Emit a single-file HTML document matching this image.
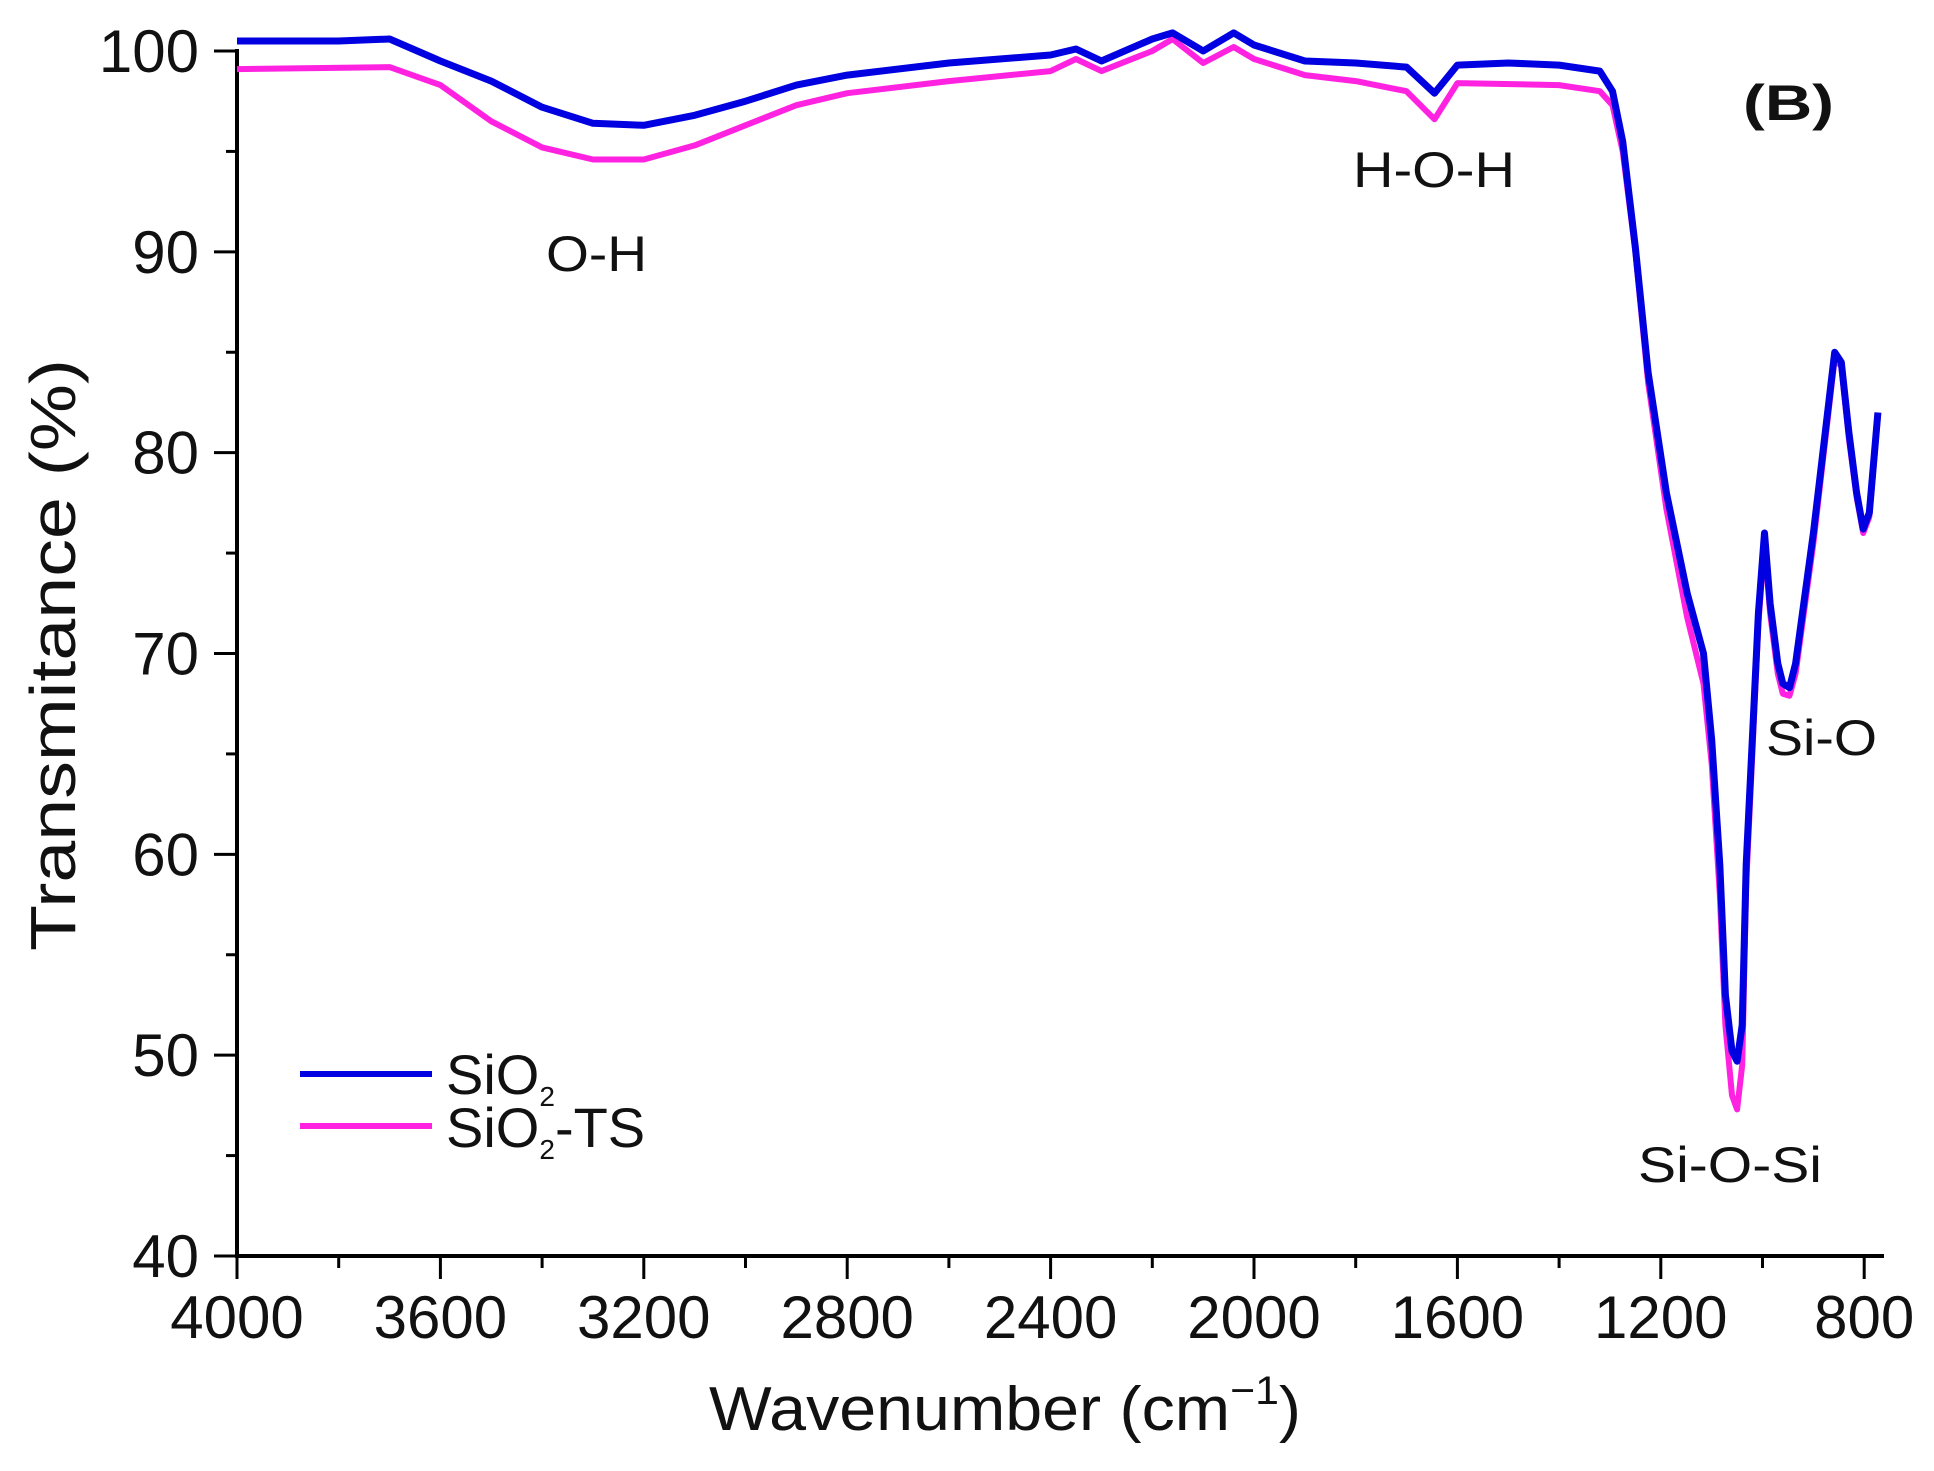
<!DOCTYPE html>
<html><head><meta charset="utf-8"><style>
html,body{margin:0;padding:0;background:#fff}
svg{display:block}
text{font-family:"Liberation Sans",sans-serif;fill:#111}
</style></head><body>
<svg id="chart" width="1934" height="1471" viewBox="0 0 1934 1471">
<g id="axes"></g>
<g id="series"></g>
<text x="0" y="0" font-size="64" textLength="592" lengthAdjust="spacingAndGlyphs" transform="translate(75,951) rotate(-90)">Transmitance (%)</text>
<text x="709" y="1430" font-size="62" textLength="592" lengthAdjust="spacingAndGlyphs">Wavenumber (cm<tspan font-size="40" dy="-26">−1</tspan><tspan dy="26">)</tspan></text>
<text x="546" y="271" font-size="50" textLength="101" lengthAdjust="spacingAndGlyphs">O-H</text>
<text x="1353" y="187" font-size="50" textLength="162" lengthAdjust="spacingAndGlyphs">H-O-H</text>
<text x="1743" y="120" font-size="50" font-weight="bold" textLength="91" lengthAdjust="spacingAndGlyphs">(B)</text>
<text x="1766" y="755" font-size="50" textLength="111" lengthAdjust="spacingAndGlyphs">Si-O</text>
<text x="1638" y="1182" font-size="50" textLength="184" lengthAdjust="spacingAndGlyphs">Si-O-Si</text>
<g>
<line x1="300" y1="1074" x2="432" y2="1074" stroke="#0000e0" stroke-width="6"/>
<text x="446" y="1094" font-size="56">SiO<tspan font-size="28" dy="12">2</tspan></text>
<line x1="300" y1="1126" x2="432" y2="1126" stroke="#ff22e0" stroke-width="6"/>
<text x="446" y="1147" font-size="56">SiO<tspan font-size="28" dy="12">2</tspan><tspan dy="-12">-TS</tspan></text>
</g>
</svg>
<script>
const xTicks = [4000,3600,3200,2800,2400,2000,1600,1200,800];
const yTicks = [40,50,60,70,80,90,100];
const wnBlue = [4000,3800,3700,3600,3500,3400,3300,3200,3100,3000,2900,2800,2600,2400,2350,2300,2200,2160,2100,2040,2000,1900,1800,1700,1645,1600,1500,1400,1320,1295,1275,1250,1225,1189,1148,1116,1100,1084,1073,1060,1050,1040,1032,1020,1008,996,985,970,960,947,935,900,858,845,830,815,802,790,773];
const tBlue = [100.5,100.5,100.6,99.5,98.5,97.2,96.4,96.3,96.8,97.5,98.3,98.8,99.4,99.8,100.1,99.5,100.6,100.9,100.0,100.9,100.3,99.5,99.4,99.2,97.9,99.3,99.4,99.3,99.0,98.0,95.5,90.2,84,78,73,70,65.7,59.5,53,50.2,49.7,51.5,59.5,65.7,72,76,72.5,69.5,68.5,68.3,69.5,76,85,84.5,81,78,76.2,77,82];
const wnPink = [4000,3700,3600,3500,3400,3300,3200,3100,3000,2900,2800,2600,2400,2350,2300,2200,2160,2100,2040,2000,1900,1800,1700,1645,1600,1400,1320,1295,1275,1250,1225,1189,1148,1116,1100,1084,1073,1060,1050,1040,1032,1020,1008,996,985,970,960,947,935,900,858,845,830,815,802,790,773];
const tPink = [99.1,99.2,98.3,96.5,95.2,94.6,94.6,95.3,96.3,97.3,97.9,98.5,99.0,99.6,99.0,100.0,100.6,99.4,100.2,99.6,98.8,98.5,98.0,96.6,98.4,98.3,98.0,97.3,95.0,90.0,83.5,77.2,71.8,68.5,64.5,58,51.5,48,47.3,49.5,58.5,65,71.5,75.5,72,69,68,67.9,69,75.5,84.7,84.3,80.7,77.8,76,76.8,81.8];

const X = wn => 237 + (4000 - wn) / 400 * 203.4;
const Y = t => 1256 - (t - 40) * (1205 / 60);
const NS = 'http://www.w3.org/2000/svg';
const axes = document.getElementById('axes');
const series = document.getElementById('series');
function mk(tag, attrs, parent){const e=document.createElementNS(NS,tag);for(const k in attrs)e.setAttribute(k,attrs[k]);parent.appendChild(e);return e;}

let e;
e = mk('line',{x1:237,y1:Y(40)+2,x2:237,y2:Y(100)-2,stroke:'#000','stroke-width':4},axes);


e = mk('line',{x1:235,y1:1256,x2:1884,y2:1256,stroke:'#000','stroke-width':4},axes);



for (let v = 40; v <= 100; v += 5) {
  const major = v % 10 === 0;
  e = mk('line',{x1:237-(major?23:11),y1:Y(v),x2:237,y2:Y(v),stroke:'#000','stroke-width':3},axes);
  
  
}
yTicks.forEach(v=>{
  e = mk('text',{x:199,y:Y(v)+21,'font-size':60,'text-anchor':'end'},axes);
  e.textContent = v;
  
  
});
for (let w = 4000; w >= 800; w -= 200) {
  const major = w % 400 === 0;
  e = mk('line',{x1:X(w),y1:1256,x2:X(w),y2:1256+(major?23:12),stroke:'#000','stroke-width':3},axes);
  
  
}
xTicks.forEach(w=>{
  e = mk('text',{x:X(w),y:1338,'font-size':60,'text-anchor':'middle'},axes);
  e.textContent = w;
  
  
});

function path(wn, t){return wn.map((w,i)=>(i?'L':'M')+X(w).toFixed(1)+','+Y(t[i]).toFixed(1)).join(' ');}
e = mk('path',{d:path(wnPink,tPink),fill:'none',stroke:'#ff22e0','stroke-width':6,'stroke-linejoin':'round'},series);


e = mk('path',{d:path(wnBlue,tBlue),fill:'none',stroke:'#0000e0','stroke-width':7,'stroke-linejoin':'round'},series);


</script>
</body></html>
